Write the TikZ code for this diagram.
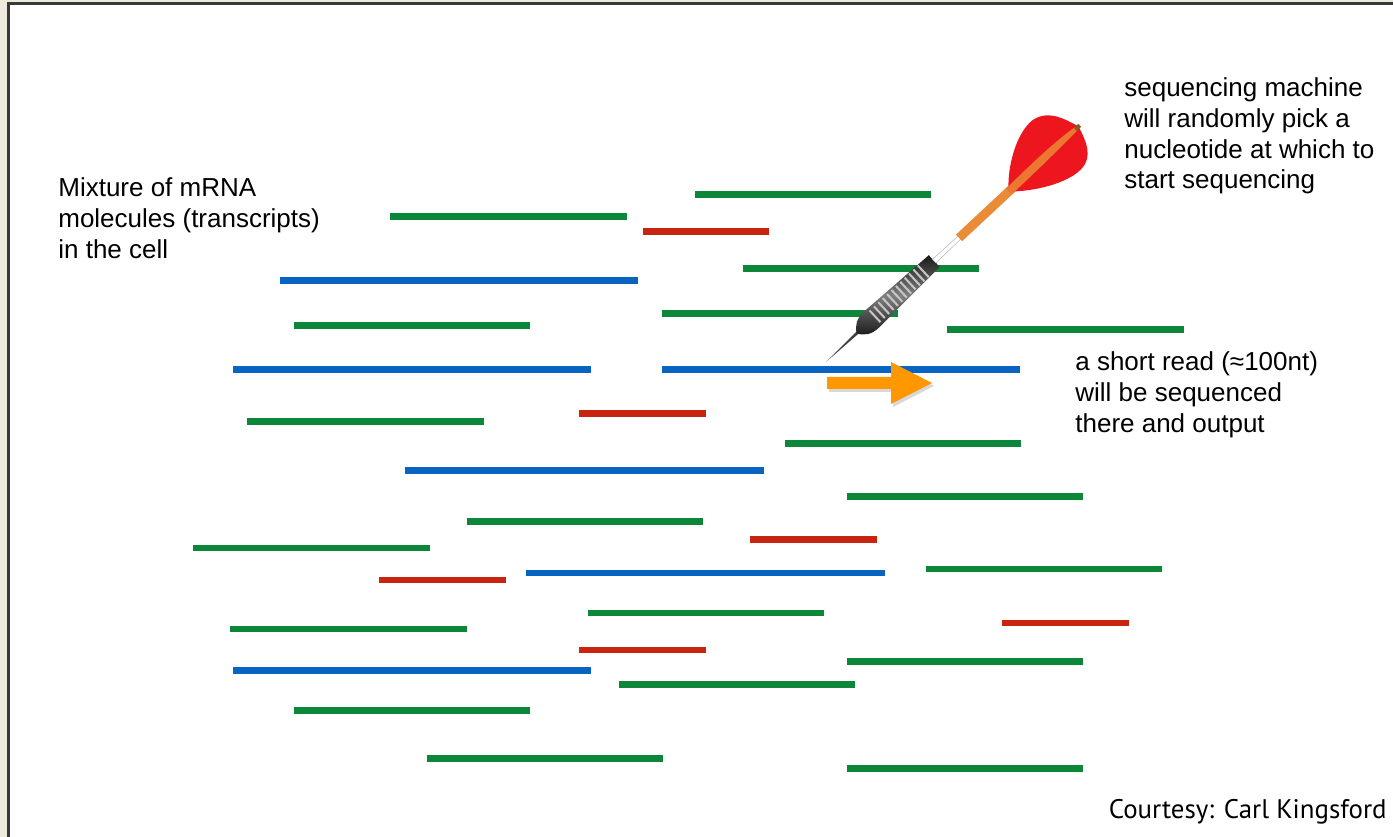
\documentclass[tikz,border=0pt]{standalone}
\usepackage{fontspec}
\setmainfont{Liberation Sans}
\newfontfamily\creditfont{PT Sans}
\usetikzlibrary{shadows}
\definecolor{paper}{RGB}{237,233,221}
\definecolor{frame}{RGB}{56,56,56}
\definecolor{mgreen}{RGB}{12,134,56}
\definecolor{mred}{RGB}{200,36,16}
\definecolor{mblue}{RGB}{8,100,192}
\definecolor{readorange}{RGB}{255,152,0}
\definecolor{flightred}{RGB}{238,22,30}
\definecolor{stemorange}{RGB}{232,140,56}
\tikzset{
	transcript/.style={line width=0.14cm},
	gtx/.style={transcript,draw=mgreen},
	rtx/.style={transcript,draw=mred},
	btx/.style={transcript,draw=mblue},
	note/.style={font=\fontsize{14.8}{17.6}\selectfont,align=left,inner sep=0pt,anchor=north west},
	credit/.style={font=\creditfont\fontsize{15.3}{17}\selectfont,inner sep=0pt,anchor=base east}
}
\begin{document}
\begin{tikzpicture}[x=0.02cm,y=-0.02cm]
	\useasboundingbox (0,0) rectangle (1393,837);
	\fill[paper] (0,0) rectangle (1393,837);
	\fill[white] (8.5,3.5) rectangle (1394,838);
	\draw[frame,line width=0.05cm] (8.5,838) -- (8.5,3.5) -- (1394,3.5);

	\draw[gtx] (390,217) -- (627,217);
	\draw[gtx] (695,195) -- (931,195);
	\draw[rtx] (643,232) -- (769,232);
	\draw[gtx] (743,269) -- (979,269);
	\draw[btx] (280,281) -- (638,281);
	\draw[gtx] (662,314) -- (898,314);
	\draw[gtx] (294,326) -- (530,326);
	\draw[gtx] (947,330) -- (1184,330);
	\draw[btx] (233,370) -- (591,370);
	\draw[btx] (662,370) -- (1020,370);
	\draw[rtx] (579,414) -- (706,414);
	\draw[gtx] (247,422) -- (484,422);
	\draw[gtx] (785,444) -- (1021,444);
	\draw[btx] (405,471) -- (764,471);
	\draw[gtx] (847,497) -- (1083,497);
	\draw[gtx] (467,522) -- (703,522);
	\draw[rtx] (750,540) -- (877,540);
	\draw[gtx] (193,548) -- (430,548);
	\draw[gtx] (926,569) -- (1162,569);
	\draw[btx] (526,573) -- (885,573);
	\draw[rtx] (379,580) -- (506,580);
	\draw[gtx] (588,613) -- (824,613);
	\draw[rtx] (1002,623) -- (1129,623);
	\draw[gtx] (230,629) -- (467,629);
	\draw[rtx] (579,650) -- (706,650);
	\draw[gtx] (847,661) -- (1083,661);
	\draw[btx] (233,670) -- (591,670);
	\draw[gtx] (619,684) -- (855,684);
	\draw[gtx] (294,710) -- (530,710);
	\draw[gtx] (427,758) -- (663,758);
	\draw[gtx] (847,768) -- (1083,768);

	% the dart, tip first
	\begin{scope}[shift={(826,362)},rotate=43]
		\fill[gray!50!black] (0,0) -- (45,-1.5) -- (45,1.5) -- cycle;
		\shade[top color=black!90,bottom color=black!90,middle color=black!50] (42,0) .. controls (46,-7) and (52,-11) .. (62,-11) -- (148,-8) -- (148,8) -- (62,11) .. controls (52,11) and (46,7) .. (42,0) -- cycle;
		\draw[gray!45,line width=0.32cm,dash pattern=on 0.04cm off 0.08cm] (66,0) -- (136,0);
		\filldraw[fill=white,draw=gray!55,line width=0.3pt] (148,-2.5) -- (183,-2) -- (183,2) -- (148,2.5) -- cycle;
		\fill[stemorange] (182,-4.5) rectangle (256,4.5);
		\fill[flightred] (250,0) .. controls (260,-14) and (292,-38) .. (316,-36) .. controls (336,-33) and (341,-12) .. (345,-1) -- (345,1) .. controls (341,15) and (336,32) .. (318,33) .. controls (298,34) and (268,17) .. (250,0) -- cycle;
		\fill[stemorange!85!red] (250,-4) .. controls (290,-5) and (320,-5) .. (342,-2) -- (342,2) .. controls (320,3) and (290,4) .. (250,4) -- cycle;
		\fill[brown!70!black] (341,-2) rectangle (347,2);
	\end{scope}

	\fill[readorange,drop shadow={opacity=0.3,shadow xshift=0.04cm,shadow yshift=-0.06cm}] (827,377) -- (891,377) -- (891,362) -- (932,383) -- (891,404) -- (891,389) -- (827,389) -- cycle;

	\node[note] (mixture) at (58,177) {Mixture of mRNA\\molecules (transcripts)\\in the cell};
	\node[note] (machine) at (1124,77) {sequencing machine\\will randomly pick a\\nucleotide at which to\\start sequencing};
	\node[note] (shortread) at (1075,351) {a short read (≈100nt)\\will be sequenced\\there and output};
	\node[credit] (courtesy) at (1387,818) {Courtesy: Carl Kingsford};
\end{tikzpicture}
\end{document}
